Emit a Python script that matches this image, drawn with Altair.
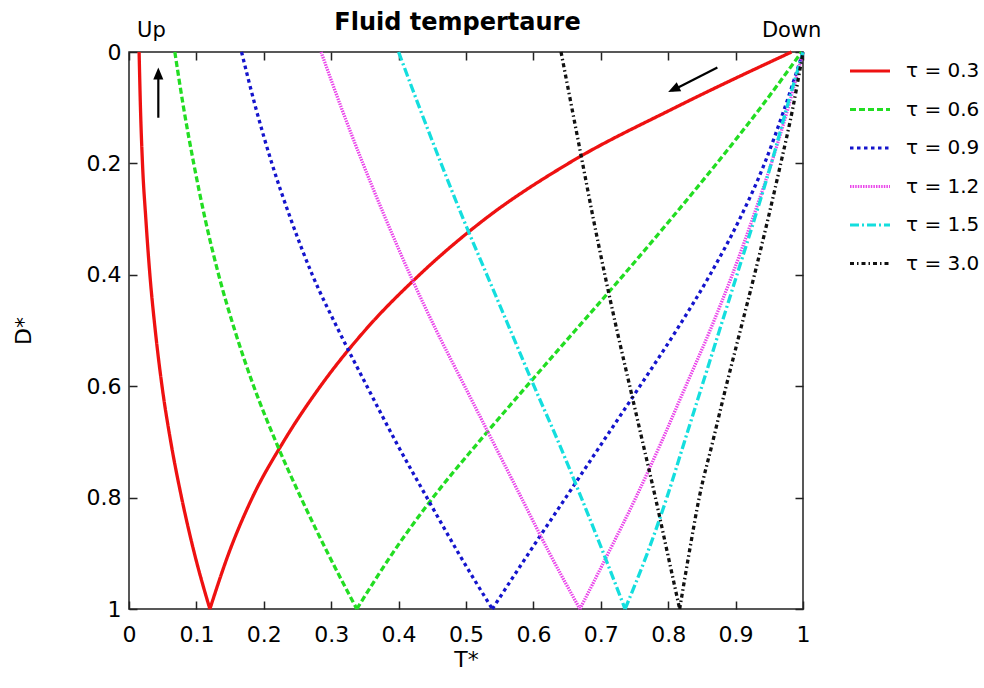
import altair as alt
import pandas as pd

# Plot-area size in pixels
W, H = 674, 557

# Dimensionless depth grid shared by every temperature profile
depth = [0.0, 0.1, 0.2, 0.3, 0.4, 0.5, 0.6, 0.7, 0.8, 0.9, 1.0]

tau_labels = ["τ = 0.3", "τ = 0.6", "τ = 0.9", "τ = 1.2", "τ = 1.5", "τ = 3.0"]

# Up-flow branch (left limb of each V): T* at each depth
up_03 = [0.015, 0.017, 0.020, 0.025, 0.031, 0.039, 0.049, 0.062, 0.078, 0.097, 0.120]
up_06 = [0.068, 0.081, 0.096, 0.113, 0.133, 0.157, 0.185, 0.218, 0.255, 0.295, 0.338]
up_09 = [0.167, 0.188, 0.212, 0.240, 0.272, 0.311, 0.353, 0.396, 0.442, 0.489, 0.539]
up_12 = [0.285, 0.315, 0.347, 0.381, 0.417, 0.456, 0.498, 0.540, 0.582, 0.624, 0.669]
up_15 = [0.400, 0.431, 0.463, 0.496, 0.531, 0.566, 0.601, 0.637, 0.671, 0.704, 0.736]
up_30 = [0.641, 0.657, 0.673, 0.689, 0.706, 0.724, 0.743, 0.762, 0.781, 0.799, 0.817]

# Down-flow branch (right limb of each V): T* at each depth
down_03 = [0.983, 0.810, 0.652, 0.528, 0.431, 0.350, 0.284, 0.229, 0.183, 0.148, 0.120]
down_06 = [0.998, 0.937, 0.872, 0.804, 0.734, 0.662, 0.590, 0.519, 0.451, 0.391, 0.338]
down_09 = [1.000, 0.973, 0.943, 0.906, 0.862, 0.812, 0.758, 0.703, 0.648, 0.593, 0.539]
down_12 = [1.000, 0.978, 0.953, 0.925, 0.895, 0.862, 0.826, 0.790, 0.752, 0.711, 0.669]
down_15 = [1.000, 0.976, 0.953, 0.928, 0.902, 0.876, 0.850, 0.824, 0.798, 0.769, 0.736]
down_30 = [1.000, 0.985, 0.967, 0.948, 0.928, 0.907, 0.886, 0.866, 0.846, 0.831, 0.817]

up_branches = [up_03, up_06, up_09, up_12, up_15, up_30]
down_branches = [down_03, down_06, down_09, down_12, down_15, down_30]

x_ticks = [0, 0.1, 0.2, 0.3, 0.4, 0.5, 0.6, 0.7, 0.8, 0.9, 1]
y_ticks = [0, 0.2, 0.4, 0.6, 0.8, 1]

line_colors = ["#ee1111", "#22dd22", "#1414cc", "#ea46ea", "#14dede", "#111111"]
line_dashes = [[1, 0], [6, 3], [3.5, 3.5], [1.5, 1.1], [9, 3, 2, 3], [4, 3, 1.5, 3]]

# Flow-direction annotations
flow_labels = ["Up", "Down"]
flow_label_T = [0.0119, 0.939]
flow_label_D = [-0.0266, -0.0266]

arrow_ids = ["up", "up", "down", "down"]
arrow_T = [0.0435, 0.0435, 0.873, 0.806]
arrow_D = [0.118, 0.040, 0.028, 0.069]
head_T = [0.0435, 0.800]
head_D = [0.028, 0.072]
head_angle = [0, 243.5]

rows = []
for label, up_vals, down_vals in zip(tau_labels, up_branches, down_branches):
    for branch, vals in (("up", up_vals), ("down", down_vals)):
        for d, t in zip(depth, vals):
            rows.append({"series": label, "branch": branch, "D": d, "T": t})
profiles = pd.DataFrame(rows)

labels_df = pd.DataFrame({"text": flow_labels, "T": flow_label_T, "D": flow_label_D})
shafts_df = pd.DataFrame({"id": arrow_ids, "T": arrow_T, "D": arrow_D})
heads_df = pd.DataFrame({"T": head_T, "D": head_D, "angle": head_angle})

FONT = "DejaVu Sans"

x_enc = alt.X(
    "T:Q",
    scale=alt.Scale(domain=[0, 1], nice=False, zero=False),
    axis=alt.Axis(
        values=x_ticks, format="~g", title="T*", orient="bottom",
        domain=False, ticks=False, labelFlush=False, labelOverlap=False,
        grid=True, gridColor="#222222", gridWidth=1.5, gridDash=[8, H - 16, 8],
        labelFont=FONT, labelFontSize=22, labelColor="black", labelPadding=15,
        titleFont=FONT, titleFontSize=22, titleFontWeight="normal", titleColor="black",
        titleX=W / 2, titleY=50, titleBaseline="middle", titleAlign="center",
    ),
)
y_enc = alt.Y(
    "D:Q",
    scale=alt.Scale(domain=[0, 1], nice=False, zero=False, reverse=True),
    axis=alt.Axis(
        values=y_ticks, format="~g", title="D*", orient="left",
        domain=False, ticks=False, labelOverlap=False,
        grid=True, gridColor="#222222", gridWidth=1.5, gridDash=[8, W - 16, 8],
        labelFont=FONT, labelFontSize=22, labelColor="black", labelPadding=8,
        titleFont=FONT, titleFontSize=22, titleFontWeight="normal", titleColor="black",
        titleX=-106, titleY=H / 2, titleBaseline="middle", titleAlign="center",
    ),
)

legend = alt.Legend(
    title=None, orient="none", legendX=719, legendY=7, padding=0,
    symbolType="stroke", symbolSize=1600, symbolStrokeWidth=3.2,
    labelFont=FONT, labelFontSize=20, labelColor="black", labelOffset=14,
    rowPadding=14.5, clipHeight=24,
)

lines = alt.Chart(profiles).mark_line(
    strokeWidth=3.3, interpolate="monotone", strokeCap="butt"
).encode(
    x=x_enc,
    y=y_enc,
    color=alt.Color("series:N", scale=alt.Scale(domain=tau_labels, range=line_colors), legend=legend),
    strokeDash=alt.StrokeDash("series:N", scale=alt.Scale(domain=tau_labels, range=line_dashes), legend=legend),
    detail="branch:N",
)

shafts = alt.Chart(shafts_df).mark_line(color="black", strokeWidth=2.2).encode(
    x=x_enc, y=y_enc, detail="id:N"
)

heads = alt.Chart(heads_df).mark_point(
    shape="M0,0L-0.42,1L0.42,1Z", size=576, filled=True, color="black", opacity=1
).encode(
    x=x_enc, y=y_enc, angle=alt.Angle("angle:Q", scale=None)
)

flow_text = alt.Chart(labels_df).mark_text(
    font=FONT, fontSize=21, align="left", baseline="alphabetic", color="black"
).encode(
    x=x_enc, y=y_enc, text="text:N"
)

chart = alt.layer(lines, shafts, heads, flow_text).properties(
    width=W,
    height=H,
    title=alt.TitleParams(
        "Fluid tempertaure", font=FONT, fontSize=24, fontWeight="bold",
        color="black", dx=-8.5, dy=29, offset=14, anchor="middle",
    ),
    padding={"left": 129, "top": 52, "right": 181, "bottom": 79},
    autosize=alt.AutoSizeParams(type="none"),
    background="white",
).configure_view(stroke="#222222", strokeWidth=1.5)

chart.save("out.html", embed_options={"renderer": "svg", "actions": False})
